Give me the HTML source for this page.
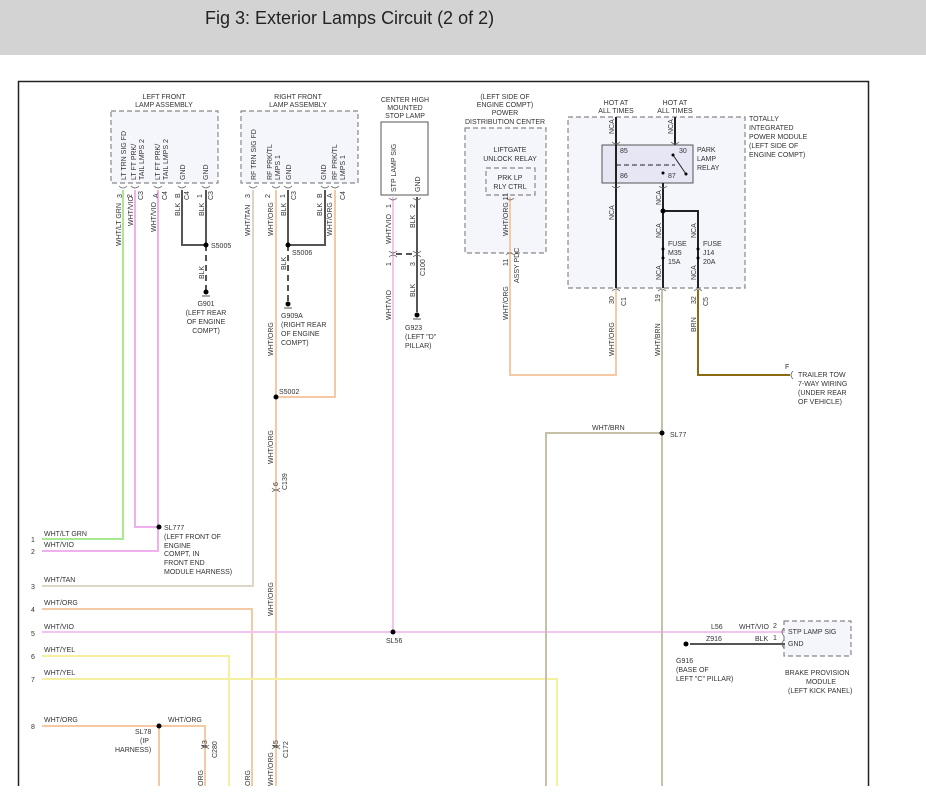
<!DOCTYPE html>
<html><head><meta charset="utf-8"><style>
html,body{margin:0;padding:0;background:#fff;width:926px;height:802px;overflow:hidden}
svg{display:block}
text{font-family:"Liberation Sans",sans-serif;font-size:7px;fill:#333}
.t{font-size:18px;fill:#222}
</style></head><body>
<svg width="926" height="802" viewBox="0 0 926 802">
<rect x="0" y="0" width="926" height="55" fill="#d3d3d3"/>
<text class="t" x="205" y="24">Fig 3: Exterior Lamps Circuit (2 of 2)</text>
<rect x="18.5" y="81.5" width="850" height="720" fill="none" stroke="#222" stroke-width="1.5"/>

<!-- boxes -->
<g stroke="#888" stroke-dasharray="5,3" stroke-width="1.2" fill="#f5f5fc">
<rect x="111" y="111" width="107" height="72"/>
<rect x="241" y="111" width="117" height="72"/>
<rect x="465" y="128" width="81" height="125"/>
<rect x="486" y="168" width="49" height="27"/>
<rect x="568" y="117" width="177" height="171"/>
<rect x="784" y="621" width="67" height="35"/>
</g>
<rect x="381" y="122" width="47" height="73" fill="#fff" stroke="#555"/>
<rect x="602" y="145" width="91" height="38" fill="#e6e6f4" stroke="#555"/>

<!-- colored wires -->
<g fill="none" stroke-width="2">
<polyline points="123,190 123,539 42,539" stroke="#a8e890"/>
<polyline points="135,190 135,527 159,527" stroke="#f0b0ee"/>
<polyline points="158,190 158,551 42,551" stroke="#f0b0ee"/>
<polyline points="253,190 253,586 42,586" stroke="#ddd6c6"/>
<polyline points="42,609 252,609 252,786" stroke="#f5c9a4"/>
<polyline points="276,190 276,786" stroke="#f5c9a4"/>
<polyline points="335,190 335,397 276,397" stroke="#f5c9a4"/>
<polyline points="42,632 785,632" stroke="#f4c4f0"/>
<polyline points="393,197 393,632" stroke="#f4c4f0"/>
<polyline points="42,656 229,656 229,786" stroke="#f5f0a0"/>
<polyline points="42,679 557,679 557,786" stroke="#f5f0a0"/>
<polyline points="42,726 159,726 159,786" stroke="#f5c9a4"/>
<polyline points="159,726 205,726 205,786" stroke="#f5c9a4"/>
<polyline points="510,197 510,375 616,375 616,290" stroke="#f5c9a4"/>
<polyline points="662,290 662,786" stroke="#c8bfa8"/>
<polyline points="662,433 546,433 546,786" stroke="#c8bfa8"/>
<polyline points="698,290 698,375 790,375" stroke="#8b6a14"/>
</g>
<!-- black wires -->
<g fill="none" stroke="#555" stroke-width="2">
<polyline points="182,190 182,245 206,245"/>
<polyline points="206,190 206,245"/>
<polyline points="288,190 288,245 325,245 325,190"/>
<polyline points="417,197 417,312"/>
<polyline points="690,644 785,644"/>
</g>
<g fill="none" stroke="#555" stroke-width="2" stroke-dasharray="6,4">
<line x1="206" y1="245" x2="206" y2="292"/>
<line x1="288" y1="245" x2="288" y2="304"/>
<line x1="396" y1="254" x2="414" y2="254"/>
</g>
<g fill="none" stroke="#222" stroke-width="2">
<line x1="616" y1="117" x2="616" y2="288"/>
<line x1="675" y1="117" x2="675" y2="145"/>
<polyline points="663,183 663,288"/>
<polyline points="663,211 698,211 698,288"/>
</g>
<line x1="616" y1="165" x2="675" y2="165" stroke="#222" stroke-dasharray="5,3"/>
<line x1="673" y1="155" x2="686" y2="174" stroke="#222"/>
<!-- connector arcs -->
<g fill="none" stroke="#666" stroke-width="0.8">
<path d="M119,186 q4,4 8,0 M131,186 q4,4 8,0 M154,186 q4,4 8,0 M178,186 q4,4 8,0 M202,186 q4,4 8,0"/>
<path d="M249,186 q4,4 8,0 M272,186 q4,4 8,0 M284,186 q4,4 8,0 M321,186 q4,4 8,0 M331,186 q4,4 8,0"/>
<path d="M389,198 q4,4 8,0 M413,198 q4,4 8,0 M389,251 q4,4 8,0 M413,251 q4,4 8,0 M389,257 q4,-4 8,0 M413,257 q4,-4 8,0"/>
<path d="M506,198 q4,4 8,0 M506,255 q4,-4 8,0"/>
<path d="M612,142 q4,4 8,0 M671,142 q4,4 8,0 M612,186 q4,4 8,0 M659,186 q4,4 8,0 M612,291 q4,-4 8,0 M658,291 q4,-4 8,0 M694,291 q4,-4 8,0"/>
<path d="M272,488 q4,4 8,0 M272,492 q4,-4 8,0 M201,745 q4,4 8,0 M201,749 q4,-4 8,0 M272,745 q4,4 8,0 M272,749 q4,-4 8,0"/>
<path d="M793,371 q-4,4 0,8 M784,628 q-4,4 0,8 M784,640 q-4,4 0,8"/>
</g>
<!-- dots -->
<g fill="#000">
<circle cx="206" cy="245" r="2.5"/><circle cx="288" cy="245" r="2.5"/><circle cx="276" cy="397" r="2.5"/>
<circle cx="159" cy="527" r="2.5"/><circle cx="393" cy="632" r="2.5"/><circle cx="159" cy="726" r="2.5"/>
<circle cx="662" cy="433" r="2.5"/><circle cx="663" cy="211" r="2.5"/>
<circle cx="206" cy="292" r="2.5"/><circle cx="288" cy="304" r="2.5"/><circle cx="417" cy="315" r="2.5"/><circle cx="686" cy="644" r="2.5"/>
<circle cx="663" cy="249" r="1.5"/><circle cx="663" cy="258" r="1.5"/><circle cx="698" cy="249" r="1.5"/><circle cx="698" cy="258" r="1.5"/>
<circle cx="673" cy="155" r="1.5"/><circle cx="686" cy="174" r="1.5"/><circle cx="663" cy="173" r="1.5"/>
</g>
<g stroke="#555" stroke-width="1"><line x1="202" y1="296" x2="210" y2="296"/><line x1="284" y1="308" x2="292" y2="308"/><line x1="413" y1="319" x2="421" y2="319"/></g>

<!-- titles -->
<g text-anchor="middle">
<text x="164" y="99">LEFT FRONT</text><text x="164" y="107">LAMP ASSEMBLY</text>
<text x="298" y="99">RIGHT FRONT</text><text x="298" y="107">LAMP ASSEMBLY</text>
<text x="405" y="102">CENTER HIGH</text><text x="405" y="110">MOUNTED</text><text x="405" y="118">STOP LAMP</text>
<text x="505" y="99">(LEFT SIDE OF</text><text x="505" y="107">ENGINE COMPT)</text><text x="505" y="115">POWER</text><text x="505" y="124">DISTRIBUTION CENTER</text>
<text x="510" y="152">LIFTGATE</text><text x="510" y="161">UNLOCK RELAY</text>
<text x="510" y="180">PRK LP</text><text x="510" y="189">RLY CTRL</text>
<text x="616" y="105">HOT AT</text><text x="616" y="113">ALL TIMES</text>
<text x="675" y="105">HOT AT</text><text x="675" y="113">ALL TIMES</text>
<text x="206" y="306">G901</text><text x="206" y="315">(LEFT REAR</text><text x="206" y="324">OF ENGINE</text><text x="206" y="333">COMPT)</text>
</g>
<text x="749" y="121">TOTALLY</text><text x="749" y="130">INTEGRATED</text><text x="749" y="139">POWER MODULE</text><text x="749" y="148">(LEFT SIDE OF</text><text x="749" y="157">ENGINE COMPT)</text>
<text x="697" y="152">PARK</text><text x="697" y="161">LAMP</text><text x="697" y="170">RELAY</text>
<text x="620" y="153">85</text><text x="679" y="153">30</text><text x="620" y="178">86</text><text x="668" y="178">87</text>
<text x="668" y="246">FUSE</text><text x="668" y="255">M35</text><text x="668" y="264">15A</text>
<text x="703" y="246">FUSE</text><text x="703" y="255">J14</text><text x="703" y="264">20A</text>
<text x="211" y="248">S5005</text><text x="292" y="255">S5006</text><text x="279" y="394">S5002</text>
<text x="281" y="318">G909A</text><text x="281" y="327">(RIGHT REAR</text><text x="281" y="336">OF ENGINE</text><text x="281" y="345">COMPT)</text>
<text x="405" y="330">G923</text><text x="405" y="339">(LEFT "D"</text><text x="405" y="348">PILLAR)</text>
<text x="798" y="377">TRAILER TOW</text><text x="798" y="386">7-WAY WIRING</text><text x="798" y="395">(UNDER REAR</text><text x="798" y="404">OF VEHICLE)</text><text x="785" y="369">F</text>
<text x="592" y="430">WHT/BRN</text><text x="670" y="437">SL77</text>
<text x="164" y="530">SL777</text><text x="164" y="539">(LEFT FRONT OF</text><text x="164" y="548">ENGINE</text><text x="164" y="556">COMPT, IN</text><text x="164" y="565">FRONT END</text><text x="164" y="574">MODULE HARNESS)</text>
<text x="44" y="536">WHT/LT GRN</text><text x="44" y="547">WHT/VIO</text><text x="44" y="582">WHT/TAN</text><text x="44" y="605">WHT/ORG</text><text x="44" y="629">WHT/VIO</text><text x="44" y="652">WHT/YEL</text><text x="44" y="675">WHT/YEL</text><text x="44" y="722">WHT/ORG</text>
<text x="31" y="542">1</text><text x="31" y="554">2</text><text x="31" y="589">3</text><text x="31" y="612">4</text><text x="31" y="636">5</text><text x="31" y="659">6</text><text x="31" y="682">7</text><text x="31" y="729">8</text>
<text x="386" y="643">SL56</text>
<text x="168" y="722">WHT/ORG</text><text x="135" y="734">SL78</text><text x="140" y="743">(IP</text><text x="115" y="752">HARNESS)</text>
<text x="711" y="629">L56</text><text x="739" y="629">WHT/VIO</text><text x="773" y="628">2</text>
<text x="706" y="641">Z916</text><text x="755" y="641">BLK</text><text x="773" y="640">1</text>
<text x="788" y="634">STP LAMP SIG</text><text x="788" y="646">GND</text>
<text x="676" y="663">G916</text><text x="676" y="672">(BASE OF</text><text x="676" y="681">LEFT "C" PILLAR)</text>
<text x="785" y="675">BRAKE PROVISION</text><text x="806" y="684">MODULE</text><text x="788" y="693">(LEFT KICK PANEL)</text>

<!-- rotated labels -->
<g>
<text transform="translate(126,180) rotate(-90)">LT TRN SIG FD</text>
<text transform="translate(136,180) rotate(-90)">LT FT PRK/</text>
<text transform="translate(144,180) rotate(-90)">TAIL LMPS 2</text>
<text transform="translate(160,180) rotate(-90)">LT FT PRK/</text>
<text transform="translate(168,180) rotate(-90)">TAIL LMPS 2</text>
<text transform="translate(185,180) rotate(-90)">GND</text>
<text transform="translate(208,180) rotate(-90)">GND</text>
<text transform="translate(256,180) rotate(-90)">RF TRN SIG FD</text>
<text transform="translate(272,180) rotate(-90)">RF PRK/TL</text>
<text transform="translate(280,180) rotate(-90)">LMPS 1</text>
<text transform="translate(291,180) rotate(-90)">GND</text>
<text transform="translate(326,180) rotate(-90)">GND</text>
<text transform="translate(337,180) rotate(-90)">RF PRK/TL</text>
<text transform="translate(345,180) rotate(-90)">LMPS 1</text>
<text transform="translate(396,192) rotate(-90)">STP LAMP SIG</text>
<text transform="translate(420,192) rotate(-90)">GND</text>
<text transform="translate(122,198) rotate(-90)">3</text><text transform="translate(132,198) rotate(-90)">2</text><text transform="translate(143,200) rotate(-90)">C3</text>
<text transform="translate(158,198) rotate(-90)">A</text><text transform="translate(167,200) rotate(-90)">C4</text>
<text transform="translate(180,198) rotate(-90)">B</text><text transform="translate(189,200) rotate(-90)">C4</text>
<text transform="translate(202,198) rotate(-90)">1</text><text transform="translate(213,200) rotate(-90)">C3</text>
<text transform="translate(250,198) rotate(-90)">3</text><text transform="translate(270,198) rotate(-90)">2</text><text transform="translate(285,198) rotate(-90)">1</text><text transform="translate(296,200) rotate(-90)">C3</text>
<text transform="translate(322,198) rotate(-90)">B</text><text transform="translate(332,198) rotate(-90)">A</text><text transform="translate(345,200) rotate(-90)">C4</text>
<text transform="translate(121,246) rotate(-90)">WHT/LT GRN</text>
<text transform="translate(133,226) rotate(-90)">WHT/VIO</text>
<text transform="translate(156,232) rotate(-90)">WHT/VIO</text>
<text transform="translate(180,216) rotate(-90)">BLK</text><text transform="translate(204,216) rotate(-90)">BLK</text>
<text transform="translate(204,279) rotate(-90)">BLK</text>
<text transform="translate(250,236) rotate(-90)">WHT/TAN</text>
<text transform="translate(273,236) rotate(-90)">WHT/ORG</text>
<text transform="translate(286,216) rotate(-90)">BLK</text><text transform="translate(286,270) rotate(-90)">BLK</text>
<text transform="translate(322,216) rotate(-90)">BLK</text>
<text transform="translate(332,236) rotate(-90)">WHT/ORG</text>
<text transform="translate(273,356) rotate(-90)">WHT/ORG</text>
<text transform="translate(273,464) rotate(-90)">WHT/ORG</text>
<text transform="translate(273,616) rotate(-90)">WHT/ORG</text>
<text transform="translate(278,486) rotate(-90)">6</text><text transform="translate(287,490) rotate(-90)">C139</text>
<text transform="translate(391,244) rotate(-90)">WHT/VIO</text><text transform="translate(391,320) rotate(-90)">WHT/VIO</text>
<text transform="translate(415,228) rotate(-90)">BLK</text><text transform="translate(415,297) rotate(-90)">BLK</text>
<text transform="translate(391,208) rotate(-90)">1</text><text transform="translate(415,208) rotate(-90)">2</text>
<text transform="translate(391,266) rotate(-90)">1</text><text transform="translate(415,266) rotate(-90)">3</text><text transform="translate(425,276) rotate(-90)">C100</text>
<text transform="translate(508,236) rotate(-90)">WHT/ORG 11</text>
<text transform="translate(508,266) rotate(-90)">11</text><text transform="translate(519,283) rotate(-90)">ASSY PDC</text>
<text transform="translate(508,320) rotate(-90)">WHT/ORG</text>
<text transform="translate(614,134) rotate(-90)">NCA</text><text transform="translate(673,134) rotate(-90)">NCA</text>
<text transform="translate(614,220) rotate(-90)">NCA</text>
<text transform="translate(661,205) rotate(-90)">NCA</text><text transform="translate(661,238) rotate(-90)">NCA</text><text transform="translate(661,280) rotate(-90)">NCA</text>
<text transform="translate(696,238) rotate(-90)">NCA</text><text transform="translate(696,280) rotate(-90)">NCA</text>
<text transform="translate(614,304) rotate(-90)">30</text><text transform="translate(626,306) rotate(-90)">C1</text>
<text transform="translate(660,302) rotate(-90)">19</text>
<text transform="translate(696,304) rotate(-90)">32</text><text transform="translate(708,306) rotate(-90)">C5</text>
<text transform="translate(614,356) rotate(-90)">WHT/ORG</text>
<text transform="translate(660,356) rotate(-90)">WHT/BRN</text>
<text transform="translate(696,332) rotate(-90)">BRN</text>
<text transform="translate(273,786) rotate(-90)">WHT/ORG</text>
<text transform="translate(207,748) rotate(-90)">43</text><text transform="translate(217,758) rotate(-90)">C280</text>
<text transform="translate(278,748) rotate(-90)">45</text><text transform="translate(288,758) rotate(-90)">C172</text>
<text transform="translate(203,786) rotate(-90)">ORG</text><text transform="translate(250,786) rotate(-90)">ORG</text>
</g>
<rect x="0" y="786" width="926" height="16" fill="#fff"/>
</svg>
</body></html>
